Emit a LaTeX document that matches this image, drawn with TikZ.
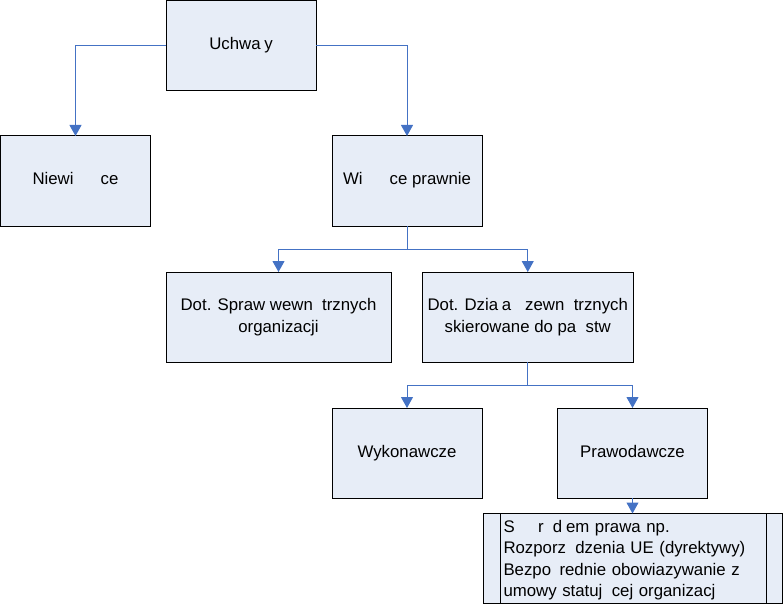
\documentclass[tikz,border=0pt]{standalone}
\usepackage{fontspec}
\setmainfont{Liberation Sans}
\usetikzlibrary{arrows.meta,positioning}

\definecolor{boxfill}{RGB}{231,237,247}
\definecolor{linkblue}{RGB}{68,114,196}
\newcommand{\gap}[1]{\phantom{#1}}

\tikzset{
  box/.style={draw=black, fill=boxfill, line width=1pt, minimum width=150pt, minimum height=90pt,
    outer sep=0pt, align=center, font=\fontsize{16.8}{21.5}\selectfont},
  oneline/.style={text height=12pt, text depth=4pt},
  link/.style={draw=linkblue, line width=1pt, -{Triangle[width=12pt,length=11pt]}}
}

\begin{document}
\begin{tikzpicture}[x=1pt,y=-1pt]
        \useasboundingbox (0,0) rectangle (784,604);
        \node[box, oneline] (uchw) at (241,45.5) {Uchwa\gap{ł}y};
        \node[box, oneline] (niew) [below left=45.5pt and 15.5pt of uchw] {Niewi\gap{ążą}ce};
        \node[box, oneline] (wiaz) [below right=45.5pt and 16pt of uchw] {Wi\gap{ążą}ce prawnie};
        \node[box, minimum width=225pt] (spraw) [below right=46pt and 15.5pt of niew] {Dot. Spraw wewn\gap{ę}trznych\\organizacji};
        \node[box, minimum width=210.5pt] (dzial) [right=31.5pt of spraw] {Dot. Dzia\gap{ł}a\gap{ń} zewn\gap{ę}trznych\\skierowane do pa\gap{ń}stw};
        \node[box, oneline] (wyk) [below=182pt of wiaz] {Wykonawcze};
        \node[box, oneline] (praw) [right=75.5pt of wyk] {Prawodawcze};
        \node[box, align=left, text width=258pt, inner xsep=20.5pt, inner ysep=0pt] (zrodl) [below=15.5pt of praw]
            {\rule{0pt}{15pt}S\gap{ą} \gap{ź}r\gap{ó}d\gap{ł}em prawa np.\\Rozporz\gap{ą}dzenia UE (dyrektywy)\\Bezpo\gap{ś}rednie obowiazywanie z\\umowy statuj\gap{ą}cej organizacj};
        \draw[line width=1pt] ([xshift=17pt]zrodl.north west) -- ([xshift=17pt]zrodl.south west);
        \draw[line width=1pt] ([xshift=-16pt]zrodl.north east) -- ([xshift=-16pt]zrodl.south east);

        \draw[link] (uchw.west) -| (niew.north);
        \draw[link] (uchw.east) -| (wiaz.north);
        \draw[link] (wiaz.south) -- ++(0,23) -| (spraw.north);
        \draw[link] (wiaz.south) -- ++(0,23) -| (dzial.north);
        \draw[link] (dzial.south) -- ++(0,23) -| (wyk.north);
        \draw[link] (dzial.south) -- ++(0,23) -| (praw.north);
        \draw[link] (praw) -- (zrodl);
    \end{tikzpicture}
\end{document}
